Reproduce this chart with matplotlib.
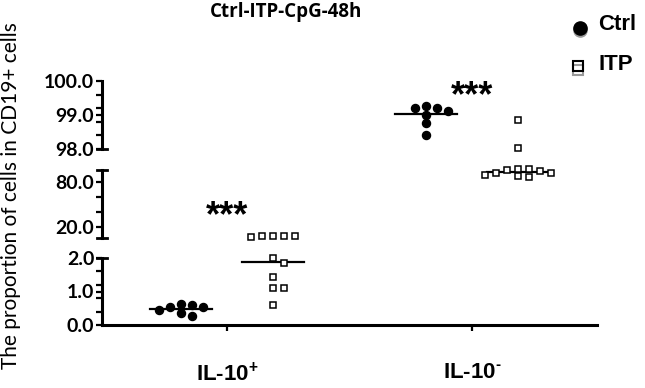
import numpy as np
import matplotlib.pyplot as plt
import matplotlib.transforms as mtransforms
from matplotlib.lines import Line2D

plt.rcParams['mathtext.fontset'] = 'custom'
plt.rcParams['mathtext.rm'] = 'Liberation Sans:bold'
plt.rcParams['mathtext.bf'] = 'Liberation Sans:bold'

# data (proportion of cells, %)
categories = [r'IL-10$^{\mathbf{+}}$', r'IL-10$^{\text{-}}$']
groups = ['Ctrl', 'ITP']
ctrl_il10pos = [0.55, 0.45, 0.63, 0.60, 0.28, 0.35, 0.55]
itp_il10pos = [8.3, 7.5, 6.8, 7.5, 8.0, 2.0, 1.84, 1.44, 1.10, 1.10, 0.60]
ctrl_il10neg = [99.21, 99.0, 99.12, 99.21, 99.26, 98.76, 98.41]
itp_il10neg = [98.85, 98.03, 92.3, 97.5, 87.9, 96.0, 86.2, 94.6, 89.2, 97.0, 91.6]
center_lines = [0.48, 1.88, 99.03, 92.9]   # Ctrl+, ITP+, Ctrl-, ITP-
signif = ['***', '***']

# broken y axis segments
seg_lims = [(0, 2), (5, 96), (98, 100)]
seg_major = [[0, 1, 2], [20, 80], [98, 99, 100]]
seg_minor = [[0.4, 0.8, 1.2, 1.6], [40, 60], [98.4, 98.8, 99.2, 99.6]]

W, H = 645, 388
fig = plt.figure(figsize=(W / 100, H / 100), dpi=100)


def fx(px):
    return px / W


def fy(py):
    return 1 - py / H


L, R = fx(102), fx(597)
ax_bot = fig.add_axes([L, fy(325), R - L, fy(258) - fy(325)])
ax_mid = fig.add_axes([L, fy(238), R - L, fy(170) - fy(238)])
ax_top = fig.add_axes([L, fy(149), R - L, fy(81) - fy(149)])
axes = [ax_bot, ax_mid, ax_top]

tick_font = dict(family='Lato', weight='bold', size=14)
for ax, lim, maj, mnr in zip(axes, seg_lims, seg_major, seg_minor):
    ax.set_xlim(-0.51, 1.51)
    ax.set_ylim(*lim)
    ax.patch.set_visible(False)
    for s in ['top', 'right', 'bottom']:
        ax.spines[s].set_visible(False)
    ax.spines['left'].set_linewidth(2.2)
    ax.set_yticks(maj)
    ax.set_yticklabels([f'{v:.1f}' for v in maj], fontdict=tick_font)
    ax.set_yticks(mnr, minor=True)
    ax.tick_params(axis='y', which='both', length=4.5, width=1.6, pad=1)
    ax.tick_params(axis='x', which='both', bottom=False, labelbottom=False)

ax_bot.spines['bottom'].set_visible(True)
ax_bot.spines['bottom'].set_linewidth(2.2)
ax_bot.set_xticks([0, 1])
ax_bot.set_xticklabels(categories, family='Liberation Sans', weight='bold', size=16)
ax_bot.tick_params(axis='x', bottom=True, labelbottom=True, length=4, width=1.6, pad=23)

# caps at the break ends
cap_w = 5 / 495
for ax, yv in [(ax_bot, 2), (ax_mid, 5), (ax_mid, 96), (ax_top, 98)]:
    tr = mtransforms.blended_transform_factory(ax.transAxes, ax.transData)
    ax.add_line(Line2D([-cap_w, cap_w], [yv, yv], transform=tr, color='black',
                       lw=2, clip_on=False))


def pick_axis(v):
    if v > 97.9:
        return ax_top
    if v > 3:
        return ax_mid
    return ax_bot


series = [(0, -0.187, ctrl_il10pos, 'Ctrl'), (0, 0.187, itp_il10pos, 'ITP'),
          (1, -0.187, ctrl_il10neg, 'Ctrl'), (1, 0.187, itp_il10neg, 'ITP')]

px_per_unit = ax_bot.transData.transform((1, 0))[0] - ax_bot.transData.transform((0, 0))[0]
step, dy_min = 11, 7

for (cat, off, vals, grp), cl in zip(series, center_lines):
    xc = cat + off
    # simple beeswarm in pixel space, half-step candidates
    order = np.argsort(vals)[::-1]
    placed = []
    cands = [0] + [s * n * step / 2 for n in range(1, 12) for s in (1, -1)]
    for i in order:
        v = vals[i]
        ax = pick_axis(v)
        ypx = ax.transData.transform((xc, v))[1]
        for c in cands:
            if all(((c - pc) / step) ** 2 + ((ypx - py) / dy_min) ** 2 >= 1
                   for pc, py in placed):
                break
        placed.append((c, ypx))
        x = xc + c / px_per_unit
        if grp == 'Ctrl':
            ax.plot(x, v, 'o', color='black', ms=5.8, clip_on=False, zorder=3)
        else:
            ax.plot(x, v, 's', mfc='white', mec='black', mew=1.1, ms=4.8,
                    clip_on=False, zorder=3)
    lax = pick_axis(cl)
    lax.plot([xc - 0.127, xc + 0.127], [cl, cl], color='black', lw=1.6,
             clip_on=False, zorder=2)

# significance marks
ax_mid.text(0, 34, signif[0], ha='center', va='center', fontsize=26,
            family='Liberation Sans', weight='bold')
ax_top.text(1, 99.55, signif[1], ha='center', va='center', fontsize=26,
            family='Liberation Sans', weight='bold')

# title and y label
fig.text(fx(286), fy(12), 'Ctrl-ITP-CpG-48h', ha='center', va='center',
         fontsize=13.5, family='Open Sans', weight='bold')
fig.text(fx(11), fy(196), 'The proportion of cells in CD19+ cells', rotation=90,
         ha='center', va='center', fontsize=15, family='Lato')

# legend with drop shadow
fig.add_artist(Line2D([fx(580)], [fy(30)], marker='o', color='0.6', ms=9.5,
                      transform=fig.transFigure))
fig.add_artist(Line2D([fx(580)], [fy(28)], marker='o', color='black', ms=9.5,
                      transform=fig.transFigure))
fig.add_artist(Line2D([fx(578)], [fy(70)], marker='s', mfc='none', mec='0.6',
                      mew=1.5, ms=7.5, transform=fig.transFigure))
fig.add_artist(Line2D([fx(578)], [fy(66)], marker='s', mfc='none', mec='black',
                      mew=1.5, ms=7.5, transform=fig.transFigure))
fig.text(fx(598), fy(25), groups[0], ha='left', va='center', fontsize=16,
         family='Liberation Sans', weight='bold')
fig.text(fx(598), fy(64), groups[1], ha='left', va='center', fontsize=16,
         family='Liberation Sans', weight='bold')

fig.savefig('out.png', dpi=100)
